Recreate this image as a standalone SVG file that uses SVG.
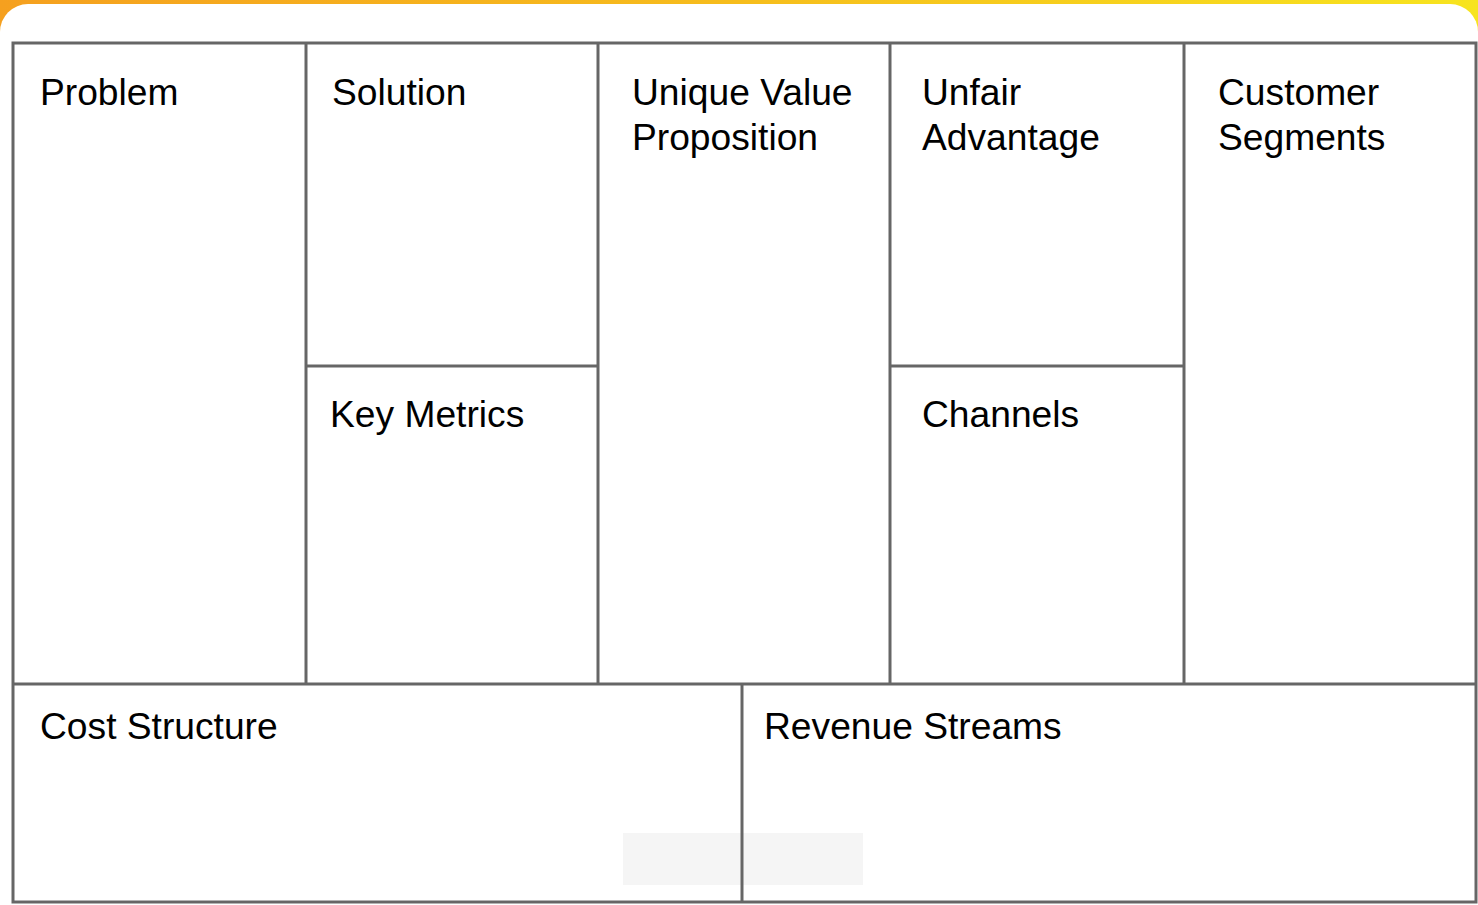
<svg xmlns="http://www.w3.org/2000/svg" width="1478" height="905" viewBox="0 0 1478 905">
<defs>
<linearGradient id="bg" x1="0" y1="0" x2="1" y2="0">
<stop offset="0" stop-color="#f5a01f"/>
<stop offset="0.5" stop-color="#f6bd1c"/>
<stop offset="1" stop-color="#f7e41f"/>
</linearGradient>
</defs>
<style>
.ln{stroke:#666;stroke-width:3;fill:none}
.lb{font-family:"Liberation Sans",Arial,sans-serif;font-size:37.2px;fill:#000}
</style>
<rect x="0" y="0" width="1478" height="905" fill="url(#bg)"/>
<rect x="0" y="4" width="1478" height="940" rx="28" ry="28" fill="#fff"/>
<rect x="623" y="833" width="240" height="52" fill="#f5f5f5"/>
<g id="connectors">
<rect class="ln" x="13" y="43" width="1463" height="859"/>
<line class="ln" x1="306" y1="43" x2="306" y2="684"/>
<line class="ln" x1="598" y1="43" x2="598" y2="684"/>
<line class="ln" x1="890" y1="43" x2="890" y2="684"/>
<line class="ln" x1="1184" y1="43" x2="1184" y2="684"/>
<line class="ln" x1="306" y1="366" x2="598" y2="366"/>
<line class="ln" x1="890" y1="366" x2="1184" y2="366"/>
<line class="ln" x1="13" y1="684" x2="1476" y2="684"/>
<line class="ln" x1="742" y1="684" x2="742" y2="902"/>
</g>
<g id="problem"><text class="lb" x="40" y="105">Problem</text></g>
<g id="solution"><text class="lb" x="332" y="105">Solution</text></g>
<g id="uvp"><text class="lb" x="632" y="105">Unique Value</text><text class="lb" x="632" y="150">Proposition</text></g>
<g id="unfair"><text class="lb" x="922" y="105">Unfair</text><text class="lb" x="922" y="150">Advantage</text></g>
<g id="segments"><text class="lb" x="1218" y="105">Customer</text><text class="lb" x="1218" y="150">Segments</text></g>
<g id="metrics"><text class="lb" x="330" y="427">Key Metrics</text></g>
<g id="channels"><text class="lb" x="922" y="427">Channels</text></g>
<g id="cost"><text class="lb" x="40" y="739">Cost Structure</text></g>
<g id="revenue"><text class="lb" x="764" y="739">Revenue Streams</text></g>
</svg>
